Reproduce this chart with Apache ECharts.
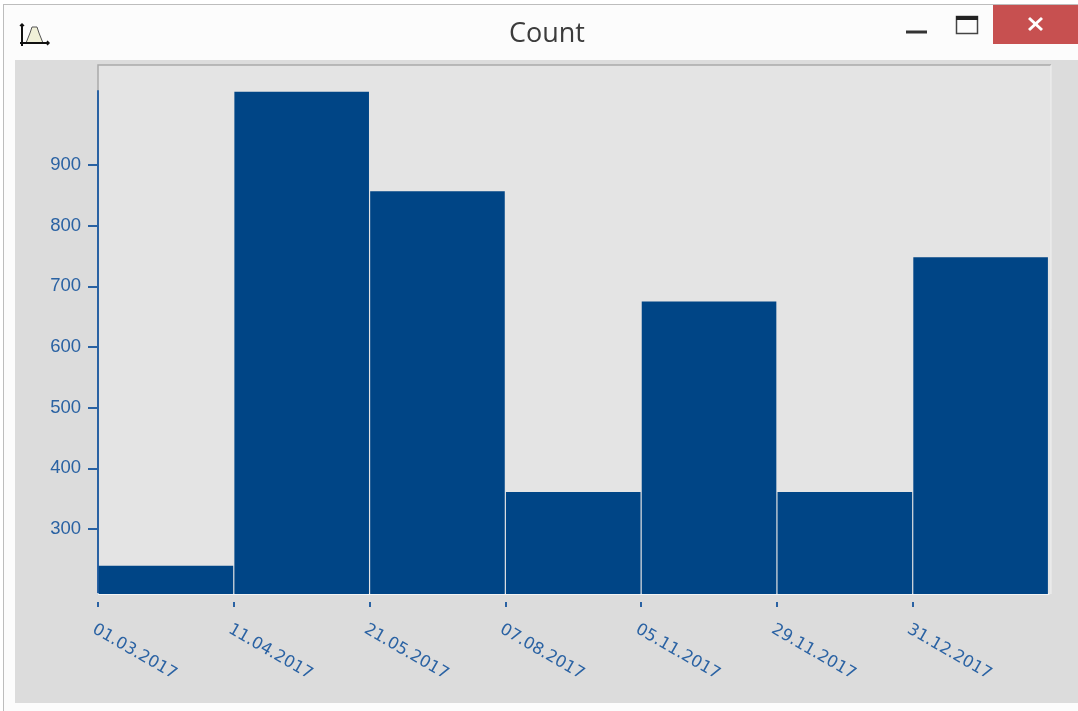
<!DOCTYPE html>
<html><head><meta charset="utf-8">
<style>html,body{margin:0;padding:0;background:#fff}#c{width:1078px;height:711px}</style>
<script src="https://cdn.jsdelivr.net/npm/echarts@6/dist/echarts.min.js"></script>
</head><body><div id="c"></div>
<script>
const categories = ['01.03.2017','11.04.2017','21.05.2017','07.08.2017','05.11.2017','29.11.2017','31.12.2017'];
const counts = [239, 1021, 857, 361, 675, 361, 748];
const yTicks = [300, 400, 500, 600, 700, 800, 900];
const titleText = 'Count';
const blue = '#004586', ink = '#2a62a3';
const xPositions = categories.map((_, i) => i);
const chart = echarts.init(document.getElementById('c'), null, {renderer:'canvas'});
const Z = -50;
const rect = (x,y,w,h,fill,z) => ({type:'rect',silent:true,z:Z+z,shape:{x,y,width:w,height:h},style:{fill}});
const line = (pts,stroke,lw,z) => ({type:'polyline',silent:true,z:Z+z,shape:{points:pts},style:{stroke,fill:null,lineWidth:lw}});
chart.setOption({
  animation:false,
  backgroundColor:'#ffffff',
  title:{text:titleText,left:542,top:16,textAlign:'center',textStyle:{color:'#3c3c3c',fontFamily:'Open Sans',fontSize:27,fontWeight:'normal'}},
  graphic:{elements:[
      rect(3,4,1075,707,'#bdbdbd',0),
      rect(4,5,1074,706,'#fcfcfc',1),
      rect(15,60,1063,643,'#dcdcdc',2),
      rect(98,65,953,529,'#e4e4e4',3),
      line([[98,594],[98,65],[1051,65]],'#a9a9a9',1.5,4),
      line([[1051,65],[1051,594]],'#f0f0f0',1,4),
      rect(993,5,85,39,'#c75050',5),
      line([[1029,18],[1042,30]],'#ffffff',3,6),
      line([[1042,18],[1029,30]],'#ffffff',3,6),
      line([[906,32],[927,32]],'#333333',3,6),
      {type:'rect',silent:true,z:Z+6,shape:{x:956.5,y:16.5,width:21,height:17},style:{fill:'none',stroke:'#444444',lineWidth:1.5}},
      rect(956,16,22,4,'#222222',6),
      {type:'polygon',silent:true,z:Z+6,shape:{points:[[26,43],[30,33],[32,27],[37,27],[39,33],[43,43]]},style:{fill:'#f0f0d8',stroke:'#555555',lineWidth:1}},
      line([[22,24],[22,46]],'#111111',2,7),
      line([[20,43],[49,43]],'#111111',2,7),
      line([[20,26],[22,24],[24,26]],'#111111',1.5,7),
      line([[47,41],[49,43],[47,45]],'#111111',1.5,7)
  ]},
  grid:{left:98,top:91,width:950.5,height:503,containLabel:false},
  xAxis:[
    {type:'category',data:categories,position:'bottom',
     axisLine:{show:true,lineStyle:{color:'#f4f4f4',width:2}},axisTick:{show:false},axisLabel:{show:false},splitLine:{show:false}},
    {type:'value',min:0,max:7,position:'bottom',offset:8,
     axisLine:{show:false},
     axisTick:{show:true,length:5,customValues:xPositions,lineStyle:{color:ink,width:2}},
     axisLabel:{show:true,rotate:-30,margin:19,verticalAlign:'top',customValues:xPositions,color:ink,fontFamily:'DejaVu Sans',fontSize:16.5,
       formatter:v=>categories[v]},
     splitLine:{show:false}}
  ],
  yAxis:{type:'value',min:192.6,max:1022.3,
    axisLine:{show:true,lineStyle:{color:ink,width:2}},
    axisTick:{show:true,length:10,customValues:yTicks,lineStyle:{color:ink,width:2}},
    axisLabel:{show:true,margin:17,customValues:yTicks,color:ink,fontFamily:'Liberation Sans',fontSize:18.5},
    splitLine:{show:false}},
  series:[{type:'bar',xAxisIndex:0,data:counts,barWidth:134.6,itemStyle:{color:blue},z:2}]
});
</script></body></html>
